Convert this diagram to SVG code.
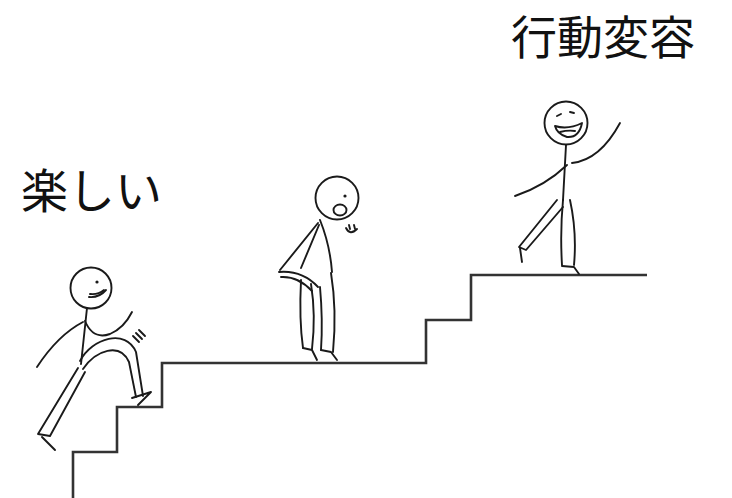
<svg xmlns="http://www.w3.org/2000/svg" width="732" height="498" viewBox="0 0 732 498">
  <style>
    .label { font-family: "Noto Sans CJK JP", "Noto Sans CJK SC", sans-serif; font-size: 47px; fill: #111; }
    .stair { fill: none; stroke: #333; stroke-width: 2.6; stroke-linejoin: miter; }
    .ink { fill: none; stroke: #1a1a1a; stroke-width: 1.9; stroke-linecap: round; stroke-linejoin: round; }
    .dot { fill: #1a1a1a; }
  </style>
  <rect width="732" height="498" fill="#fff"/>

  <!-- staircase -->
  <path id="stairs" class="stair" d="M73,498 V452 H117 V407 H162 V363 H426 V320 H471 V275 H647"/>

  <!-- labels -->
  <text id="label-fun" class="label" x="21" y="208">楽しい</text>
  <text id="label-change" class="label" x="511" y="54" style="font-size:46px">行動変容</text>

  <!-- climber on the lower steps -->
  <g id="figure-climber" class="ink">
    <circle cx="91" cy="288" r="20.5"/>
    <circle class="dot" cx="97" cy="282" r="1.6" stroke="none"/>
    <path d="M89,297 Q99,298 106,290"/>
    <path d="M90,294 Q98,295 104,290"/>
    <path d="M87,308 L81,364"/>
    <path d="M83,322 Q58,335 37,367"/>
    <path d="M85,321 Q93,340 110,334 Q124,328 132,312"/>
    <path d="M133,336 L139,342 M136,333 L142,339 M139,330 L145,336"/>
    <path d="M80,361 C92,338 126,328 136,352 L143,396"/>
    <path d="M83,369 C96,350 120,342 129,362 L136,397"/>
    <path d="M132,398 L151,392 L138,405"/>
    <path d="M78,368 L38,434 L50,436 L85,372"/>
    <path d="M42,437 L55,450"/>
  </g>

  <!-- slouching figure on the landing -->
  <g id="figure-tired" class="ink">
    <circle cx="337" cy="198" r="21.5"/>
    <circle class="dot" cx="345" cy="196" r="1.6" stroke="none"/>
    <ellipse cx="340" cy="210" rx="6.5" ry="5.5"/>
    <path d="M346,228 Q350,236 357,229 M349,225 L350,229 M354,225 L355,229"/>
    <path d="M320,220 Q330,245 332,272"/>
    <path d="M318,223 L280,270"/>
    <path d="M319,225 L301,268"/>
    <path d="M279,272 Q302,270 318,287"/>
    <path d="M281,277 Q298,276 312,291"/>
    <path d="M301,280 Q299,320 303,348"/>
    <path d="M311,284 Q316,315 312,349"/>
    <path d="M320,287 Q323,320 321,350"/>
    <path d="M331,273 Q337,310 333,352"/>
    <path d="M303,348 L312,350 L317,360"/>
    <path d="M321,350 L331,352 L337,360"/>
  </g>

  <!-- waving figure at the top -->
  <g id="figure-happy" class="ink">
    <circle cx="566" cy="123" r="21.5"/>
    <path d="M557,116 L561,114 M570,112 L574,113"/>
    <path d="M555,126 Q568,130 582,123 Q579,138 567,137 Q557,134 555,126 Z"/>
    <path d="M560,132 Q568,130 575,131"/>
    <path d="M566,145 L563,200"/>
    <path d="M572,163 Q600,160 620,123"/>
    <path d="M567,165 Q545,186 515,196"/>
    <path d="M557,200 L519,247 L526,250 L563,207"/>
    <path d="M520,248 L522,262"/>
    <path d="M563,200 Q560,232 562,265"/>
    <path d="M570,200 Q577,232 574,265"/>
    <path d="M562,266 L574,267 L579,274"/>
  </g>
</svg>
